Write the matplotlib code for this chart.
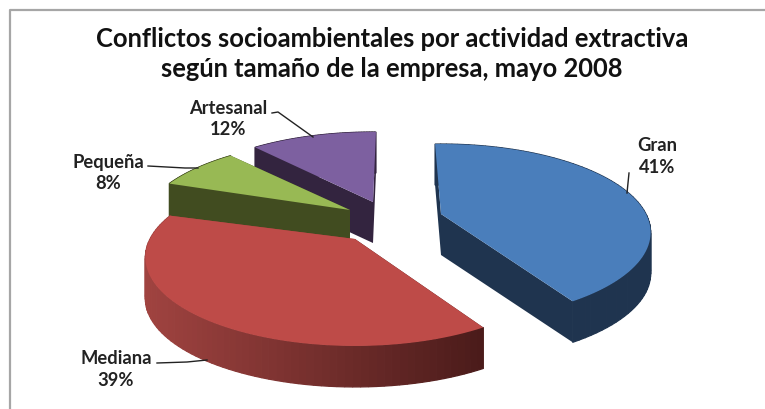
import matplotlib
matplotlib.use("Agg")
import matplotlib.pyplot as plt
import numpy as np
from matplotlib.colors import to_rgb
from matplotlib.patches import Polygon

plt.rcParams['font.family'] = ['Lato', 'DejaVu Sans']

categories = ["Gran", "Mediana", "Pequeña", "Artesanal"]
percent = [41, 39, 8, 12]

title_lines = ["Conflictos socioambientales por actividad extractiva",
               "según tamaño de la empresa, mayo 2008"]

top_colors = ["#4a7ebb", "#be4b48", "#98b954", "#7d60a0"]
side_left = ["#1f344f", "#a04340", "#414c20", "#33243f"]
side_right = ["#1f344f", "#4a1b1a", "#414c20", "#33243f"]

# exploded position of every slice, in pixels
apex = {"Gran": (441, 215), "Mediana": (355, 240), "Pequeña": (350, 211), "Artesanal": (373, 203)}
draw_order = ["Artesanal", "Pequeña", "Gran", "Mediana"]

# the source's perspective bends the slice edges a little, degrees (start, end)
nudge = {"Gran": (0, 2.5), "Mediana": (3.5, 1), "Pequeña": (3.5, 3), "Artesanal": (3.5, 3)}

# perspective of the pie plane
RX = 205
RY = 84.6
K = 0.209
DEPTH = 41
START = -2


def project(theta, center):
    # theta in degrees, clockwise from the top of the pie
    t = np.radians(theta)
    u = np.sin(t)
    v = -np.cos(t)
    d = 1 - K * v
    return center[0] + RX * u / d, center[1] + RY * v / d


def draw_slice(ax, t0, t1, center, top, left, right):
    th = np.linspace(t0, t1, 80)
    xs, ys = project(th, center)

    # radial faces
    for x, y in [(xs[0], ys[0]), (xs[-1], ys[-1])]:
        ax.add_patch(Polygon([(x, y), center, (center[0], center[1] + DEPTH), (x, y + DEPTH)],
                             closed=True, fc=left if x < center[0] else right, ec="none", zorder=ax.nz))
        ax.nz += 1

    # outer wall, colour runs with x
    c0 = np.array(to_rgb(left))
    c1 = np.array(to_rgb(right))
    xmin, xmax = xs.min(), xs.max()
    for i in range(len(th) - 1):
        f = ((xs[i] + xs[i + 1]) / 2 - xmin) / (xmax - xmin)
        ax.add_patch(Polygon([(xs[i], ys[i]), (xs[i + 1], ys[i + 1]),
                              (xs[i + 1], ys[i + 1] + DEPTH), (xs[i], ys[i] + DEPTH)],
                             closed=True, fc=c0 + (c1 - c0) * f, ec=c0 + (c1 - c0) * f, lw=0.9, zorder=ax.nz))
    ax.nz += 1

    pts = [center] + list(zip(xs, ys))
    ax.add_patch(Polygon(pts, closed=True, fc=top, ec="none", zorder=ax.nz))
    ax.nz += 1


fig = plt.figure(figsize=(7.65, 4.10), dpi=100)
ax = fig.add_axes([0, 0, 1, 1])
ax.set_xlim(0, 765)
ax.set_ylim(410, 0)
ax.axis("off")
ax.nz = 2

# chart frame, cut off on the right and the bottom
ax.plot([10, 10, 765], [410, 11, 11], color="#a6a6a6", lw=1.6, zorder=1)

angles = START + np.cumsum([0] + percent) * 3.6
for name in draw_order:
    i = categories.index(name)
    draw_slice(ax, angles[i] + nudge[name][0], angles[i + 1] + nudge[name][1], apex[name],
               top_colors[i], side_left[i], side_right[i])

for line, y in zip(title_lines, [39, 69]):
    ax.text(392, y, line, ha="center", va="center", fontsize=18.4, fontweight="bold", color="#111111", zorder=500)

label_pos = {"Gran": (657, 146, 168), "Mediana": (116, 359, 381),
             "Pequeña": (108, 163, 184), "Artesanal": (228, 108, 130)}
for name, p in zip(categories, percent):
    x, y0, y1 = label_pos[name]
    ax.text(x, y0, name, ha="center", va="center", fontsize=13.2, fontweight="bold", color="#222222", zorder=500)
    ax.text(x, y1, f"{p}%", ha="center", va="center", fontsize=13.2, fontweight="bold", color="#222222", zorder=500)

leaders = [([627, 629], [194, 174]),
           ([157, 187, 207], [364, 363, 361]),
           ([148, 185, 198], [167, 169, 169]),
           ([272, 278, 313], [114, 113, 138])]
for lx, ly in leaders:
    ax.plot(lx, ly, color="#222222", lw=1.0, zorder=400)

fig.savefig("out.png", dpi=100)
